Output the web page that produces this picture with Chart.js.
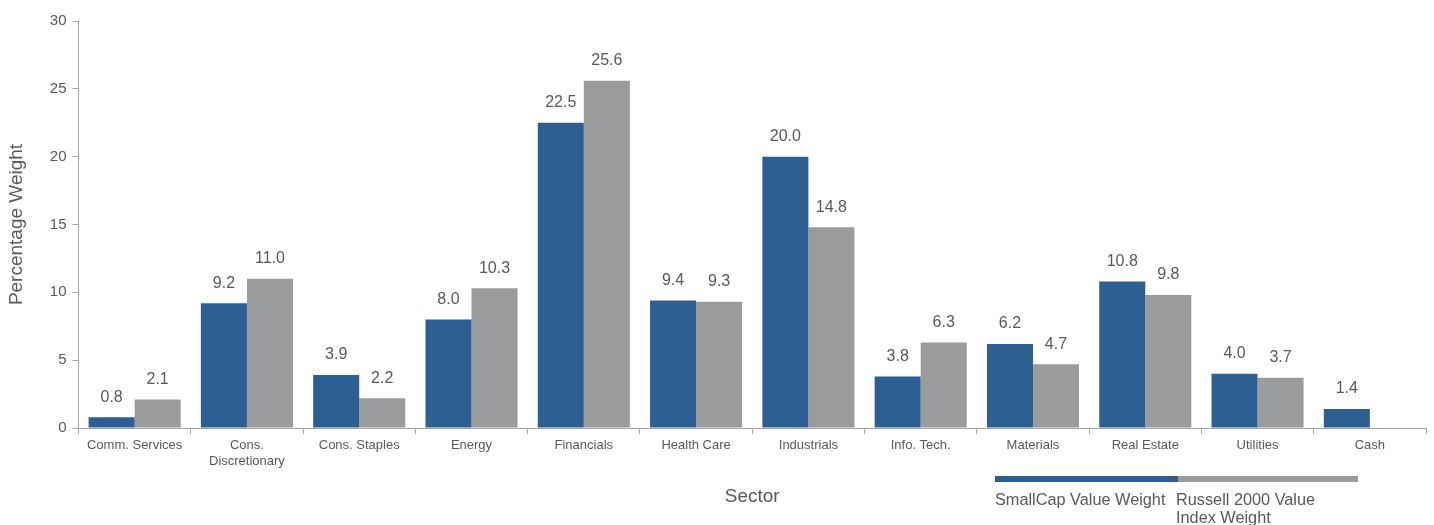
<!DOCTYPE html>
<html><head><meta charset="utf-8">
<script src="https://cdn.jsdelivr.net/npm/chart.js@4/dist/chart.umd.min.js"></script>
<style>html,body{margin:0;padding:0;background:#fff}#wrap{width:1434px;height:525px}</style>
</head><body><div id="wrap"><canvas id="c" width="1434" height="525"></canvas></div>
<script>
const categories = [["Comm. Services"],["Cons.","Discretionary"],["Cons. Staples"],["Energy"],["Financials"],["Health Care"],["Industrials"],["Info. Tech."],["Materials"],["Real Estate"],["Utilities"],["Cash"]];
const smallCapValue = [0.8,9.2,3.9,8.0,22.5,9.4,20.0,3.8,6.2,10.8,4.0,1.4];
const russell2000Value = [2.1,11.0,2.2,10.3,25.6,9.3,14.8,6.3,4.7,9.8,3.7,null];
const yTicks = [0,5,10,15,20,25,30];
const seriesNames = ["SmallCap Value Weight", ["Russell 2000 Value","Index Weight"]];
const colors = ["#2e5f93","#9a9b9d"];
const FONT = "'Liberation Sans', Arial, sans-serif";
const TXT = "#595959";

const labelPlugin = {
  id:'vals',
  afterDatasetsDraw(chart){
    const ctx = chart.ctx;
    ctx.save();
    ctx.font = "16px " + FONT;
    ctx.fillStyle = TXT;
    ctx.textAlign = 'center';
    ctx.textBaseline = 'bottom';
    chart.data.datasets.forEach((ds,i)=>{
      chart.getDatasetMeta(i).data.forEach((bar,j)=>{
        const v = ds.data[j];
        if (v==null) return;
        ctx.fillText(v.toFixed(1), bar.x, bar.y - 12);
      });
    });
    ctx.restore();
  }
};
const legendPlugin = {
  id:'lg',
  afterDraw(chart){
    const ctx = chart.ctx;
    ctx.save();
    const xs = [995, 1178, 1358];
    const y = 479;
    for (let i=0;i<2;i++){
      ctx.fillStyle = colors[i];
      ctx.fillRect(xs[i], y-3, xs[i+1]-xs[i], 6);
    }
    ctx.font = "16.3px " + FONT;
    ctx.fillStyle = TXT;
    ctx.textAlign='left';
    ctx.textBaseline='middle';
    seriesNames.forEach((n,i)=>{
      const lines = Array.isArray(n)?n:[n];
      lines.forEach((l,k)=>ctx.fillText(l, xs[i]-(i?2:0), 501 + k*18));
    });
    ctx.restore();
  }
};

new Chart(document.getElementById('c'), {
  type:'bar',
  data:{
    labels: categories,
    datasets:[
      {label:"SmallCap Value Weight", data: smallCapValue, backgroundColor: colors[0]},
      {label:"Russell 2000 Value Index Weight", data: russell2000Value, backgroundColor: colors[1]}
    ]
  },
  options:{
    responsive:false,
    animation:false,
    devicePixelRatio:1,
    layout:{padding:{left:5,right:8,top:21,bottom:17}},
    categoryPercentage:0.82,
    barPercentage:1.0,
    plugins:{legend:{display:false},tooltip:{enabled:false}},
    scales:{
      x:{
        grid:{display:true,drawOnChartArea:false,drawTicks:true,tickLength:6,color:'#a6a6a6'},
        border:{display:true,color:'#a6a6a6'},
        ticks:{color:TXT,font:{family:FONT,size:13},maxRotation:0,autoSkip:false,padding:4},
        title:{display:true,text:'Sector',color:TXT,font:{family:FONT,size:19},padding:{top:12,bottom:0}}
      },
      y:{
        min:0,max:30,
        afterBuildTicks(axis){ axis.ticks = yTicks.map(v=>({value:v})); },
        grid:{display:true,drawOnChartArea:false,drawTicks:true,tickLength:6,color:'#a6a6a6'},
        border:{display:true,color:'#a6a6a6'},
        ticks:{color:TXT,font:{family:FONT,size:15},padding:6},
        title:{display:true,text:'Percentage Weight',color:TXT,font:{family:FONT,size:19},padding:{top:0,bottom:16}}
      }
    }
  },
  plugins:[labelPlugin, legendPlugin]
});
</script></body></html>
